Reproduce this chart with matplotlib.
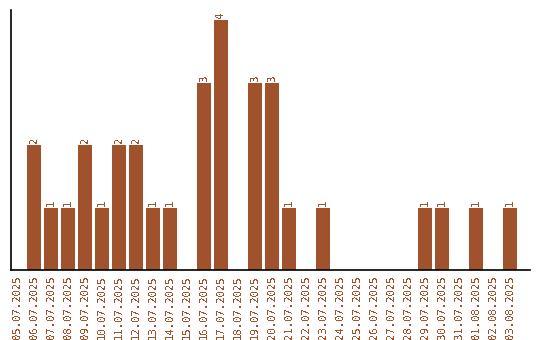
import matplotlib
matplotlib.use("Agg")
import matplotlib.pyplot as plt

dates = ["05.07.2025", "06.07.2025", "07.07.2025", "08.07.2025", "09.07.2025",
         "10.07.2025", "11.07.2025", "12.07.2025", "13.07.2025", "14.07.2025",
         "15.07.2025", "16.07.2025", "17.07.2025", "18.07.2025", "19.07.2025",
         "20.07.2025", "21.07.2025", "22.07.2025", "23.07.2025", "24.07.2025",
         "25.07.2025", "26.07.2025", "27.07.2025", "28.07.2025", "29.07.2025",
         "30.07.2025", "31.07.2025", "01.08.2025", "02.08.2025", "03.08.2025"]
counts = [0, 2, 1, 1, 2, 1, 2, 2, 1, 1,
          0, 3, 4, 0, 3, 3, 1, 0, 1, 0,
          0, 0, 0, 0, 1, 1, 0, 1, 0, 1]

color = "#a0522d"
plt.rcParams['text.antialiased'] = False
fig = plt.figure(figsize=(5.4, 3.4), dpi=100)
W, H = 540, 340
ax = fig.add_axes([11 / W, 1 - 270 / H, (530 - 11) / W, (270 - 10) / H])

x = list(range(len(dates)))
ax.bar(x, counts, width=14 / 17, color=color, antialiased=False)
for xi, c in zip(x, counts):
    if c > 0:
        ax.text(xi, c + 0.03, str(c), rotation=90, ha="center", va="bottom",
                color=color, fontsize=7.6, family="DejaVu Sans Mono")

ax.set_xlim(-6 / 17, 29 + 20 / 17)
ax.set_ylim(0, 260 / 62.5)
ax.set_xticks(x)
ax.set_xticklabels(dates, rotation=90, color=color, fontsize=7.6,
                   family="DejaVu Sans Mono")
ax.tick_params(axis="x", length=0, pad=3.5)
ax.set_yticks([])
for s in ["top", "right"]:
    ax.spines[s].set_visible(False)
for s in ["left", "bottom"]:
    ax.spines[s].set_linewidth(1.2)
    ax.spines[s].set_color("black")

fig.savefig("out.png", dpi=100)
